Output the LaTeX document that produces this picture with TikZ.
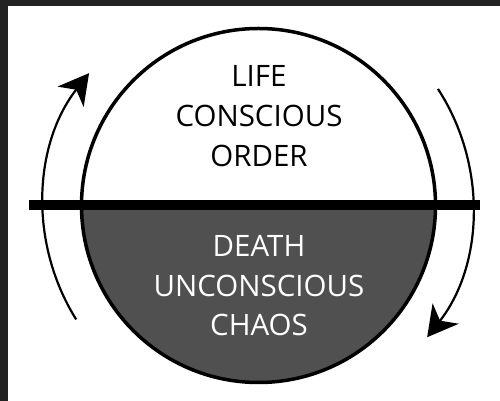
\documentclass[tikz,border=0pt]{standalone}
\usepackage{fontspec}
\setmainfont{Open Sans}
\usetikzlibrary{arrows.meta}
\definecolor{frame}{HTML}{222222}
\definecolor{darkhalf}{HTML}{505050}
\tikzset{
  lbl/.style={anchor=base, inner sep=0pt, font=\fontsize{29.5}{29.5}\selectfont},
  uplbl/.style={lbl, text=black},
  lowlbl/.style={lbl, text=white},
  cyclearrow/.style={line width=2.2pt, -{Stealth[length=30pt,width=33pt,inset=9pt]}}
}
\begin{document}
\begin{tikzpicture}[x=1pt,y=1pt]
  \useasboundingbox (0,0) rectangle (500,401);
  \fill[white] (0,0) rectangle (500,401);
  \fill[frame] (0,395) rectangle (500,401);
  \fill[frame] (0,0) rectangle (8,401);
  \coordinate (c) at (258.5,195.5);
  % lower half
  \fill[darkhalf] (c) ++(-177,0) arc[start angle=180, end angle=360, radius=177] -- cycle;
  \draw[line width=3.5pt] (c) circle[radius=177];
  % bar
  \draw[line width=10pt] (29,195.5) coordinate (barL) -- (480,195.5) coordinate (barR);
  % arrows
  \draw[cyclearrow] (c) ++(212:215) arc[start angle=212, end angle=142, radius=215];
  \draw[cyclearrow] (c) ++(33:214) arc[start angle=33, end angle=-38, radius=214];
  % texts
  \node[uplbl] (life) at (259,314) {LIFE};
  \node[uplbl] (conscious) at (259,274) {CONSCIOUS};
  \node[uplbl] (order) at (259,234) {ORDER};
  \node[lowlbl] (death) at (259,144) {DEATH};
  \node[lowlbl] (unconscious) at (259,104) {UNCONSCIOUS};
  \node[lowlbl] (chaos) at (259,65) {CHAOS};
\end{tikzpicture}
\end{document}
